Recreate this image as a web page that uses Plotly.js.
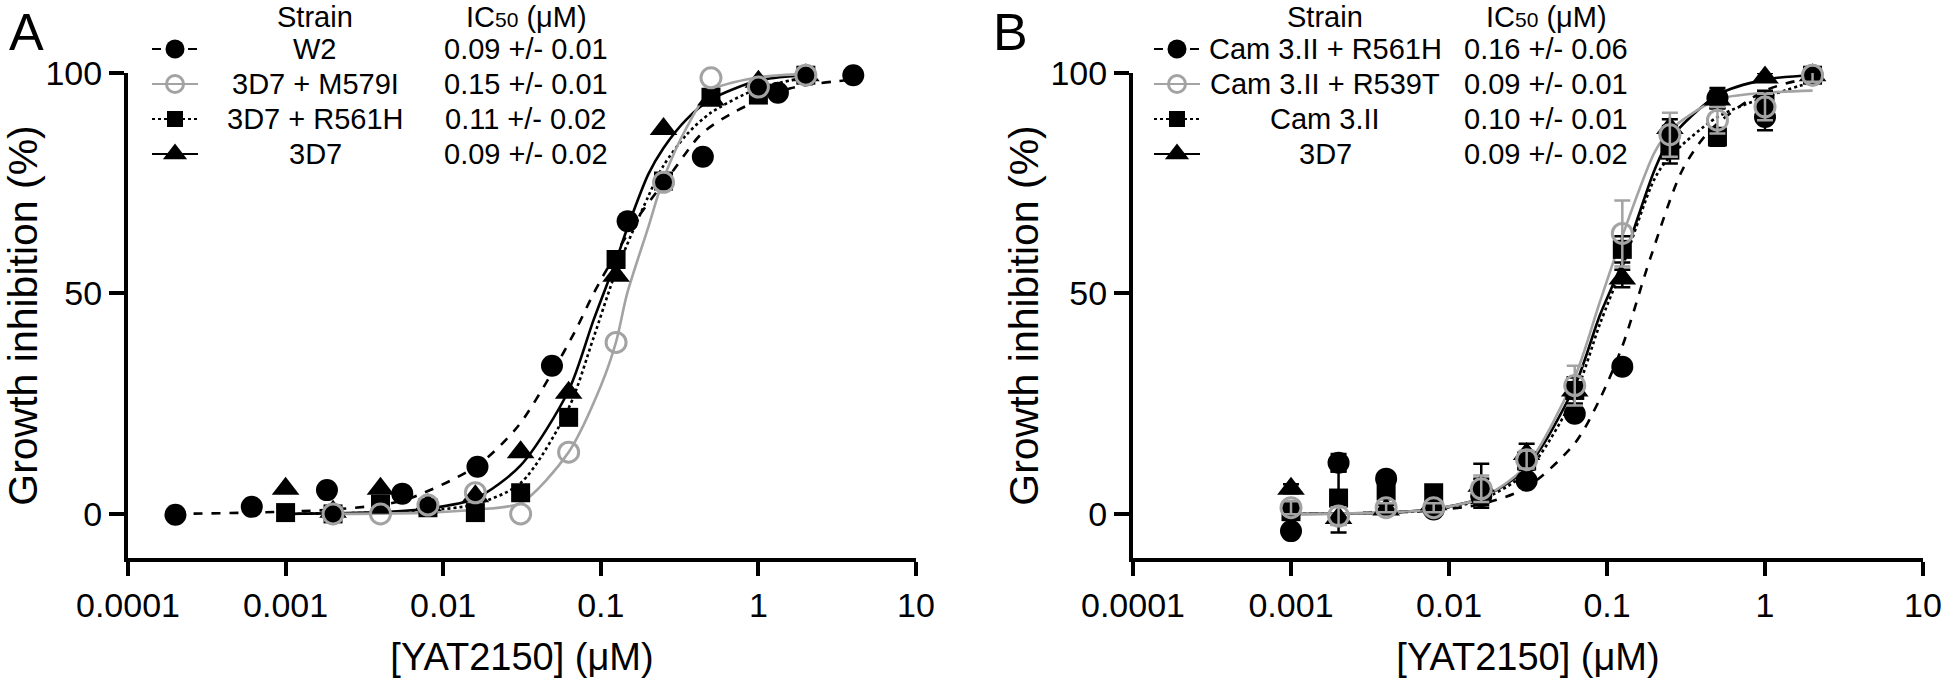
<!DOCTYPE html>
<html><head><meta charset="utf-8">
<script src="https://cdn.plot.ly/plotly-3.0.1.min.js"></script>
<style>html,body{margin:0;padding:0;background:#fff}#chart{width:1944px;height:678px}</style>
</head><body><div id="chart"></div>
<script>
// ---------------- DATA ----------------
const tickVals = [0.0001, 0.001, 0.01, 0.1, 1, 10];
const tickText = ['0.0001', '0.001', '0.01', '0.1', '1', '10'];

// Panel A legend
const aStrains = ['W2', '3D7 + M579I', '3D7 + R561H', '3D7'];
const aIC50 = ['0.09 +/- 0.01', '0.15 +/- 0.01', '0.11 +/- 0.02', '0.09 +/- 0.02'];

// Panel A points
const aW2X = [0.0002, 0.00061, 0.00183, 0.0055, 0.0165, 0.049, 0.148, 0.444, 1.33, 4];
const aW2Y = [-0.2, 1.6, 5.4, 4.6, 10.7, 33.6, 66.4, 81, 95.5, 99.5];
const aConcX = [0.001, 0.002, 0.004, 0.008, 0.016, 0.031, 0.0625, 0.125, 0.25, 0.5, 1, 2];
const aM579IX = [0.002, 0.004, 0.008, 0.016, 0.031, 0.0625, 0.125, 0.25, 0.5, 1, 2];
const aM579IY = [0, 0, 2, 4.8, 0, 14, 38.9, 75.2, 98.9, 96.8, 99.5];
const aR561HY = [0.3, 0, 2.2, 1.4, 0.3, 4.8, 21.9, 57.7, 75.5, 94.5, 95, 99.5];
const a3D7Y = [5.7, 0.5, 5.7, 2, 4, 14, 27.5, 54, 87.3, 94, 98, 99.5];

// Panel A fitted curves
const aW2FitX = [0.0002, 0.0006, 0.002, 0.0055, 0.0165, 0.03, 0.049, 0.07, 0.09, 0.12, 0.178, 0.29, 0.43, 0.69, 1.58, 4];
const aW2FitY = [0, 0.3, 1, 3, 11, 20, 32, 42, 50, 58, 68, 78, 86, 91, 96.5, 98.5];
const aM579IFitX = [0.002, 0.008, 0.016, 0.031, 0.0625, 0.1, 0.125, 0.147, 0.2, 0.25, 0.355, 0.5, 1, 2];
const aM579IFitY = [0, 0.3, 1, 2.5, 14, 29, 39, 50, 65, 76, 88, 96, 99, 99.8];
const aR561HFitX = [0.001, 0.004, 0.008, 0.016, 0.031, 0.0625, 0.09, 0.125, 0.2, 0.25, 0.35, 0.5, 1, 2];
const aR561HFitY = [0, 0.3, 0.8, 2.2, 7, 24, 40, 55, 72, 79, 86, 91, 96.5, 99];
const a3D7FitX = [0.001, 0.004, 0.008, 0.016, 0.031, 0.0625, 0.09, 0.125, 0.148, 0.2, 0.25, 0.35, 0.5, 1, 2];
const a3D7FitY = [0, 0.4, 1.2, 3.5, 11, 28, 44, 57.5, 65, 77, 83, 89.5, 94, 98.3, 99.5];

// Panel B legend
const bStrains = ['Cam 3.II + R561H', 'Cam 3.II + R539T', 'Cam 3.II', '3D7'];
const bIC50 = ['0.16 +/- 0.06', '0.09 +/- 0.01', '0.10 +/- 0.01', '0.09 +/- 0.02'];

// Panel B points (mean, error)
const bConcX = [0.001, 0.002, 0.004, 0.008, 0.016, 0.031, 0.0625, 0.125, 0.25, 0.5, 1, 2];
const bR561HY = [-3.9, 11.6, 8, 1, 4, 7.5, 22.7, 33.4, 86, 94.3, 90, 99.5];
const bR561HErr = [1, 2, 1, 1, 1, 1, 1, 1, 2, 2.3, 3, 1];
const bR539TY = [1.4, -0.5, 1.4, 1.4, 5.7, 12.3, 29.1, 63.6, 86, 89.3, 92.3, 99.5];
const bR539TErr = [1.5, 2, 1, 1, 3, 2, 4.5, 7.5, 5, 3, 3, 1.5];
const bCamY = [0.5, 3.6, 5.2, 4.8, 5, 12, 28, 60, 82.5, 85.5, 93, 99.5];
const bCamErr = [1, 6, 1, 1, 3, 2, 3, 3, 3, 2, 3, 1];
const b3D7Y = [5.7, -0.9, 1, 2.2, 6.4, 13.6, 28, 53.4, 87.5, 94, 99, 99.5];
const b3D7Err = [1, 3.3, 1, 1, 5, 2.3, 3, 2, 2, 2, 1, 1];

// Panel B fitted curves
const bFitX = [0.001, 0.004, 0.008, 0.016, 0.031, 0.0625, 0.09, 0.125, 0.2, 0.25, 0.5, 1, 2];
const bR561HFitX = [0.001, 0.004, 0.008, 0.016, 0.031, 0.0625, 0.09, 0.125, 0.188, 0.3, 0.45, 1, 2];
const bR561HFitY = [0, 0.3, 0.8, 2.2, 6, 16, 26, 38, 58, 78, 87, 96, 99];
const bR539TFitY = [0, 0.3, 1.1, 3.6, 11, 31, 48, 63, 82, 87, 94, 95.5, 96];
const bCamFitY = [0, 0.3, 1, 3.2, 9.5, 27, 43, 56, 76, 81, 90, 94.5, 98];
const b3D7FitY = [0, 0.3, 1.1, 3.6, 10.5, 29, 45, 57, 78, 85, 95, 98.5, 99.5];

// ---------------- STYLE / LAYOUT ----------------
const W = 1944, H = 678;
const BLACK = '#000000', GRAY = '#a3a3a3';
const FONT = 'Liberation Sans, Arial, sans-serif';
const LW = 2.6;
const styles = {
  circle: {marker: {symbol: 'circle', size: 22, color: BLACK}, line: {color: BLACK, dash: 'dash', width: LW}},
  open: {marker: {symbol: 'circle-open', size: 20, color: GRAY, line: {color: GRAY, width: 3}}, line: {color: GRAY, dash: 'solid', width: LW}},
  square: {marker: {symbol: 'square', size: 19, color: BLACK}, line: {color: BLACK, dash: 'dot', width: LW}},
  tri: {marker: {symbol: 'triangle-up', size: 24, color: BLACK}, line: {color: BLACK, dash: 'solid', width: LW}}
};

function fit(x, y, st, xa, ya) {
  return {type: 'scatter', mode: 'lines', x: x, y: y, xaxis: xa, yaxis: ya,
    line: Object.assign({shape: 'spline', smoothing: 0.8}, st.line), hoverinfo: 'skip', showlegend: false};
}
function pts(x, y, st, xa, ya, err) {
  const t = {type: 'scatter', mode: 'markers', x: x, y: y, xaxis: xa, yaxis: ya,
    marker: st.marker, cliponaxis: false, showlegend: false};
  if (err) t.error_y = {type: 'data', array: err, visible: true, color: st.marker.color, thickness: 2.5, width: 8};
  return t;
}

const traces = [
  // Panel A
  fit(aW2FitX, aW2FitY, styles.circle, 'x', 'y'),
  fit(aR561HFitX, aR561HFitY, styles.square, 'x', 'y'),
  fit(a3D7FitX, a3D7FitY, styles.tri, 'x', 'y'),
  fit(aM579IFitX, aM579IFitY, styles.open, 'x', 'y'),
  pts(aW2X, aW2Y, styles.circle, 'x', 'y'),
  pts(aConcX, aR561HY, styles.square, 'x', 'y'),
  pts(aConcX, a3D7Y, styles.tri, 'x', 'y'),
  pts(aM579IX, aM579IY, styles.open, 'x', 'y'),
  // Panel B
  fit(bR561HFitX, bR561HFitY, styles.circle, 'x2', 'y2'),
  fit(bFitX, bCamFitY, styles.square, 'x2', 'y2'),
  fit(bFitX, b3D7FitY, styles.tri, 'x2', 'y2'),
  fit(bFitX, bR539TFitY, styles.open, 'x2', 'y2'),
  pts(bConcX, bR561HY, styles.circle, 'x2', 'y2', bR561HErr),
  pts(bConcX, bCamY, styles.square, 'x2', 'y2', bCamErr),
  pts(bConcX, b3D7Y, styles.tri, 'x2', 'y2', b3D7Err),
  pts(bConcX, bR539TY, styles.open, 'x2', 'y2', bR539TErr)
];

// Custom legends (keys drawn in a pixel-space overlay axis)
const legendKeyOrder = ['circle', 'open', 'square', 'tri'];
const annotations = [];
function addLegend(keyCx, strainCx, icCx, strains, ic50) {
  const rowY0 = 49, rowStep = 35, headY = 17;
  annotations.push({xref: 'x3', yref: 'y3', x: strainCx, y: headY, text: 'Strain', showarrow: false, xanchor: 'center', yanchor: 'middle', font: {size: 29, color: BLACK, family: FONT}});
  annotations.push({xref: 'x3', yref: 'y3', x: icCx, y: headY, text: 'IC<span style="font-size:21px">50</span> (μM)', showarrow: false, xanchor: 'center', yanchor: 'middle', font: {size: 29, color: BLACK, family: FONT}});
  strains.forEach((s, i) => {
    const yy = rowY0 + i * rowStep;
    const st = styles[legendKeyOrder[i]];
    traces.push({type: 'scatter', mode: 'lines', x: [keyCx - 23, keyCx + 23], y: [yy, yy], xaxis: 'x3', yaxis: 'y3',
      line: Object.assign({}, st.line, {width: 2.2}), hoverinfo: 'skip', showlegend: false, cliponaxis: false});
    traces.push({type: 'scatter', mode: 'markers', x: [keyCx], y: [yy], xaxis: 'x3', yaxis: 'y3',
      marker: Object.assign({}, st.marker, {size: st.marker.size - 3}), hoverinfo: 'skip', showlegend: false, cliponaxis: false});
    annotations.push({xref: 'x3', yref: 'y3', x: strainCx, y: yy, text: s, showarrow: false, xanchor: 'center', yanchor: 'middle', font: {size: 29, color: BLACK, family: FONT}});
    annotations.push({xref: 'x3', yref: 'y3', x: icCx, y: yy, text: ic50[i], showarrow: false, xanchor: 'center', yanchor: 'middle', font: {size: 29, color: BLACK, family: FONT}});
  });
}
addLegend(175, 315, 526, aStrains, aIC50);
addLegend(1177, 1325, 1546, bStrains, bIC50);
annotations.push({xref: 'x3', yref: 'y3', x: 26, y: 32, text: 'A', showarrow: false, xanchor: 'center', yanchor: 'middle', font: {size: 52, color: BLACK, family: FONT}});
annotations.push({xref: 'x3', yref: 'y3', x: 1010, y: 32, text: 'B', showarrow: false, xanchor: 'center', yanchor: 'middle', font: {size: 52, color: BLACK, family: FONT}});

const yDom = [(H - 558) / H, (H - 73) / H];
function xAxis(dom) {
  return {type: 'log', range: [-4, 1], domain: dom, tickvals: tickVals, ticktext: tickText,
    ticks: 'outside', ticklen: 14, tickwidth: 4, tickcolor: BLACK, showline: true, linewidth: 4, linecolor: BLACK,
    showgrid: false, zeroline: false, tickfont: {size: 34, color: BLACK, family: FONT},
    title: {text: '[YAT2150] (μM)', font: {size: 38, color: BLACK, family: FONT}}, fixedrange: true};
}
function yAxis() {
  return {range: [-10, 100], domain: yDom, tickvals: [0, 50, 100], ticktext: ['0', '50', '100'],
    ticks: 'outside', ticklen: 15, tickwidth: 4, tickcolor: BLACK, showline: true, linewidth: 4, linecolor: BLACK,
    showgrid: false, zeroline: false, tickfont: {size: 34, color: BLACK, family: FONT},
    title: {text: 'Growth inhibition (%)', font: {size: 41, color: BLACK, family: FONT}}, fixedrange: true};
}

const layout = {
  width: W, height: H, margin: {l: 0, r: 0, t: 0, b: 0},
  paper_bgcolor: '#ffffff', plot_bgcolor: 'rgba(0,0,0,0)', showlegend: false,
  font: {family: FONT, color: BLACK},
  xaxis: Object.assign(xAxis([128 / W, 916 / W]), {anchor: 'y'}),
  yaxis: Object.assign(yAxis(), {anchor: 'x'}),
  xaxis2: Object.assign(xAxis([1133 / W, 1923 / W]), {anchor: 'y2'}),
  yaxis2: Object.assign(yAxis(), {anchor: 'x2'}),
  xaxis3: {domain: [0, 1], range: [0, W], visible: false, anchor: 'y3', fixedrange: true},
  yaxis3: {domain: [0, 1], range: [H, 0], visible: false, anchor: 'x3', fixedrange: true},
  annotations: annotations
};

Plotly.newPlot('chart', traces, layout, {displayModeBar: false, staticPlot: true});
</script></body></html>
